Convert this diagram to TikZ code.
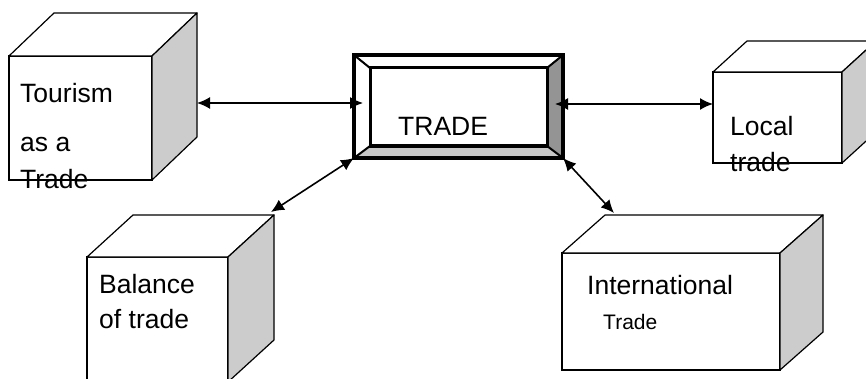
\documentclass[tikz,border=0pt]{standalone}
\usepackage{fontspec}
\setmainfont{Liberation Sans}
\usetikzlibrary{arrows.meta,calc}
\newcommand\mycube[3]{%
  \draw[cubetop] (#1.north west) -- ++(#2,#3) -- ($(#1.north east)+(#2,#3)$) -- (#1.north east) -- cycle;
  \draw[cubeside] (#1.north east) -- ++(#2,#3) -- ($(#1.south east)+(#2,#3)$) -- (#1.south east) -- cycle;
}
\begin{document}
\begin{tikzpicture}[x=1pt,y=1pt,
  face/.style={draw=black, line width=1.2pt, fill=white, inner sep=0pt, outer sep=0pt},
  cubeside/.style={draw=black, line width=1.2pt, fill=black!20, line join=round},
  cubetop/.style={draw=black, line width=1.2pt, fill=white, line join=round},
  lbl/.style={anchor=base west, inner sep=0pt, font=\fontsize{26.5}{30}\selectfont},
  lblsmall/.style={lbl, font=\fontsize{21}{25}\selectfont},
  link/.style={line width=1.6pt, {Latex[length=13pt,width=12pt]}-{Latex[length=13pt,width=12pt]}},
]
\useasboundingbox (0,0) rectangle (866,378);

% Cubes
\node[face, minimum width=143pt, minimum height=124pt] (tour) at (80.5,260) {};
\mycube{tour}{45}{43}
\node[face, minimum width=141pt, minimum height=125pt] (bal) at (157.5,58.5) {};
\mycube{bal}{46}{42}
\node[face, minimum width=129pt, minimum height=91pt] (local) at (777.5,260.5) {};
\mycube{local}{34}{31}
\node[face, minimum width=218pt, minimum height=117pt] (intl) at (671,66.5) {};
\mycube{intl}{43}{38}

% TRADE frame
\node[minimum width=209pt, minimum height=103pt, inner sep=0pt, outer sep=0pt] (trade) at (458.5,271.5) {};
\coordinate (inw) at ($(trade.north west)+(16,-13)$);
\coordinate (ine) at ($(trade.north east)+(-16,-13)$);
\coordinate (ise) at ($(trade.south east)+(-16,12)$);
\coordinate (isw) at ($(trade.south west)+(16,12)$);
\fill[white] (trade.north west) rectangle (trade.south east);
\fill[black!42] (trade.north east) -- (ine) -- (ise) -- (trade.south east) -- cycle;
\fill[black!22] (trade.south west) -- (isw) -- (ise) -- (trade.south east) -- cycle;
\draw[line width=2pt] (trade.north west) -- (inw) (trade.north east) -- (ine)
  (trade.south east) -- (ise) (trade.south west) -- (isw);
\draw[line width=3pt] (inw) rectangle (ise);
\draw[line width=3.5pt] (trade.north west) rectangle (trade.south east);

% Labels
\node[lbl] (t1) at (20,275) {Tourism};
\node[lbl] (t2) at (20,226) {as a};
\node[lbl] (t3) at (20,190) {Trade};
\node[lbl] (tr) at (398,242) {TRADE};
\node[lbl] (l1) at (730,243) {Local};
\node[lbl] (l2) at (730,207) {trade};
\node[lbl] (b1) at (99,85) {Balance};
\node[lbl] (b2) at (99,50) {of trade};
\node[lbl] (i1) at (587,84) {International};
\node[lblsmall] (i2) at (603,49) {Trade};

% Connectors
\coordinate (tourR) at ($(tour.east)+(45,15)$);
\coordinate (tradeL) at ($(trade.west)+(9,3.5)$);
\coordinate (tradeR) at ($(trade.east)+(-8,2.5)$);
\coordinate (localL) at ($(local.west)+(0,13.5)$);
\coordinate (balTR) at ($(bal.north east)+(43,45)$);
\coordinate (intlT) at ($(intl.north west)+(52,40)$);
\draw[link] (tourR) -- (tradeL);
\draw[link] (tradeR) -- (localL);
\draw[link] (trade.south west) -- (balTR);
\draw[link] (trade.south east) -- (intlT);
\end{tikzpicture}
\end{document}
